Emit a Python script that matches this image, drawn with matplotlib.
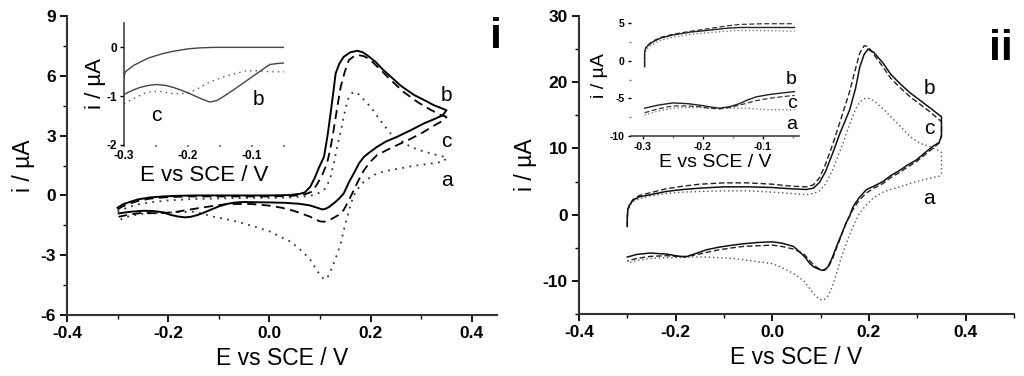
import matplotlib
matplotlib.use("Agg")
import matplotlib.pyplot as plt
from matplotlib.ticker import MultipleLocator, AutoMinorLocator

plt.rcParams["font.family"] = ["Liberation Sans", "DejaVu Sans"]
plt.rcParams["axes.unicode_minus"] = False

# ---------------- panel i (main) ----------------
i_b_up_x = [-0.30, -0.29, -0.275, -0.26, -0.236, -0.21, -0.183, -0.15, -0.10, -0.05, 0.0, 0.04, 0.06, 0.07,
            0.081, 0.09, 0.098, 0.108, 0.115, 0.121, 0.127, 0.131, 0.138, 0.147, 0.16, 0.174, 0.185, 0.193,
            0.21, 0.225, 0.24, 0.26, 0.286, 0.305, 0.325, 0.35]
i_b_up_y = [-0.62, -0.45, -0.32, -0.2, -0.10, -0.05, -0.02, 0.0, 0.0, 0.0, 0.0, 0.02, 0.08, 0.15,
            0.44, 0.9, 1.4, 1.94, 3.0, 4.12, 5.3, 6.12, 6.6, 6.96, 7.18, 7.26, 7.18, 7.04,
            6.7, 6.3, 5.96, 5.5, 5.04, 4.8, 4.53, 4.28]
i_b_dn_x = [0.35, 0.343, 0.325, 0.306, 0.28, 0.253, 0.23, 0.213, 0.2, 0.187, 0.177, 0.167, 0.157, 0.147,
            0.137, 0.127, 0.118, 0.11, 0.104, 0.095, 0.08, 0.06, 0.03, 0.0, -0.03, -0.051, -0.07, -0.084,
            -0.1, -0.117, -0.13, -0.143, -0.155, -0.166, -0.18, -0.196, -0.209, -0.23, -0.249, -0.275, -0.298]
i_b_dn_y = [4.28, 4.03, 3.82, 3.62, 3.28, 2.95, 2.7, 2.44, 2.2, 1.94, 1.6, 1.11, 0.65, 0.1,
            -0.18, -0.4, -0.58, -0.68, -0.7, -0.62, -0.5, -0.42, -0.37, -0.35, -0.34, -0.33, -0.36, -0.43,
            -0.55, -0.73, -0.87, -0.99, -1.07, -1.1, -1.06, -0.97, -0.85, -0.78, -0.77, -0.82, -0.9]

i_c_up_x = [-0.30, -0.29, -0.275, -0.26, -0.236, -0.21, -0.183, -0.15, -0.10, -0.05, 0.0, 0.04, 0.07, 0.085,
            0.094, 0.104, 0.114, 0.121, 0.127, 0.134, 0.141, 0.149, 0.157, 0.167, 0.177, 0.188, 0.2, 0.22,
            0.24, 0.265, 0.292, 0.315, 0.339, 0.35]
i_c_up_y = [-0.7, -0.55, -0.4, -0.28, -0.16, -0.1, -0.07, -0.05, -0.05, -0.05, -0.05, -0.03, 0.05, 0.2,
            0.55, 1.0, 1.61, 2.4, 3.28, 4.4, 5.45, 6.2, 6.79, 6.98, 7.04, 6.98, 6.79, 6.3,
            5.79, 5.2, 4.7, 4.35, 4.03, 3.95]
i_c_dn_x = [0.35, 0.345, 0.325, 0.306, 0.28, 0.253, 0.23, 0.213, 0.2, 0.187, 0.177, 0.167, 0.157, 0.147,
            0.137, 0.127, 0.118, 0.108, 0.1, 0.09, 0.081, 0.065, 0.048, 0.025, 0.002, -0.02, -0.038, -0.06,
            -0.084, -0.11, -0.143, -0.165, -0.183, -0.2, -0.22, -0.249, -0.275, -0.298]
i_c_dn_y = [3.95, 3.78, 3.5, 3.2, 2.85, 2.53, 2.25, 2.03, 1.7, 1.27, 0.8, 0.27, -0.25, -0.73,
            -0.98, -1.12, -1.25, -1.32, -1.3, -1.2, -1.07, -0.92, -0.77, -0.62, -0.52, -0.46, -0.43, -0.43,
            -0.43, -0.52, -0.65, -0.74, -0.82, -0.86, -0.9, -0.87, -0.95, -1.07]

i_a_up_x = [-0.30, -0.28, -0.26, -0.23, -0.2, -0.15, -0.10, -0.05, 0.0, 0.04, 0.07, 0.088, 0.1, 0.108,
            0.115, 0.121, 0.128, 0.134, 0.141, 0.147, 0.152, 0.157, 0.164, 0.170, 0.178, 0.19, 0.2, 0.215,
            0.24, 0.26, 0.279, 0.3, 0.319, 0.335, 0.345, 0.35]
i_a_up_y = [-0.8, -0.6, -0.45, -0.33, -0.25, -0.18, -0.15, -0.13, -0.12, -0.1, -0.05, 0.02, 0.15, 0.27,
            0.55, 0.94, 1.7, 2.44, 3.2, 3.95, 4.5, 4.95, 5.15, 5.2, 5.05, 4.7, 4.45, 3.9,
            3.1, 2.75, 2.44, 2.25, 2.11, 2.0, 1.94, 1.94]
i_a_dn_x = [0.35, 0.345, 0.325, 0.306, 0.28, 0.259, 0.235, 0.213, 0.2, 0.187, 0.177, 0.167, 0.16, 0.154,
            0.147, 0.141, 0.134, 0.127, 0.12, 0.114, 0.108, 0.1, 0.09, 0.081, 0.065, 0.042, 0.02, 0.002,
            -0.025, -0.051, -0.08, -0.11, -0.13, -0.15, -0.18, -0.216, -0.25, -0.275, -0.298]
i_a_dn_y = [1.94, 1.7, 1.62, 1.56, 1.46, 1.36, 1.25, 1.11, 0.92, 0.69, 0.4, 0.02, -0.5, -1.07,
            -1.75, -2.41, -2.95, -3.41, -3.85, -4.17, -4.2, -4.0, -3.6, -3.24, -2.8, -2.32, -2.05, -1.82,
            -1.6, -1.4, -1.22, -1.07, -0.93, -0.82, -0.84, -0.87, -0.92, -1.02, -1.24]

# ---------------- panel i (inset) ----------------
ins_i_top_x = [-0.3, -0.298, -0.285, -0.27, -0.26, -0.24, -0.223, -0.2, -0.181, -0.16, -0.12, -0.08, -0.05]
ins_i_top_y = [-0.6, -0.5, -0.37, -0.27, -0.21, -0.13, -0.08, -0.03, -0.01, 0.0, 0.0, 0.0, 0.0]
ins_i_dip_x = [-0.3, -0.298, -0.285, -0.275, -0.262, -0.249, -0.235, -0.223, -0.21, -0.197, -0.18,
               -0.166, -0.155, -0.145, -0.13, -0.119, -0.105, -0.093, -0.08, -0.072, -0.06, -0.05]
ins_i_dip_y = [-0.97, -0.95, -0.87, -0.82, -0.78, -0.76, -0.78, -0.82, -0.88, -0.95, -1.05,
               -1.12, -1.09, -1.01, -0.88, -0.78, -0.65, -0.54, -0.42, -0.35, -0.33, -0.32]
ins_i_dot_x = [-0.3, -0.285, -0.265, -0.245, -0.223, -0.21, -0.197, -0.185, -0.171, -0.158, -0.145,
               -0.13, -0.109, -0.09, -0.07, -0.05]
ins_i_dot_y = [-1.15, -1.05, -0.92, -0.9, -0.95, -0.95, -0.92, -0.85, -0.74, -0.67, -0.61,
               -0.55, -0.48, -0.48, -0.5, -0.5]

# ---------------- panel ii (main) ----------------
ii_up_x = [-0.3, -0.3, -0.299, -0.295, -0.288, -0.275, -0.253, -0.22, -0.185, -0.15, -0.1, -0.05, 0.0,
           0.04, 0.07, 0.085, 0.098, 0.11, 0.125, 0.14, 0.16, 0.172, 0.181, 0.19, 0.198, 0.21, 0.229,
           0.245, 0.264, 0.285, 0.305, 0.325, 0.346, 0.35, 0.35]
ii_b_up_y = [-1.8, -0.5, 0.7, 1.5, 2.2, 2.7, 3.0, 3.5, 3.8, 4.0, 4.2, 4.2, 4.1,
             3.9, 3.8, 4.0, 4.9, 6.5, 9.3, 12.3, 15.8, 19.0, 22.3, 24.2, 25.0, 24.5, 22.9,
             21.2, 19.8, 18.4, 17.3, 16.2, 15.0, 14.8, 11.8]
ii_c_up_y = [-1.8, -0.5, 0.8, 1.6, 2.3, 2.9, 3.3, 3.9, 4.3, 4.6, 4.8, 4.8, 4.6,
             4.3, 4.2, 4.5, 5.6, 7.6, 10.6, 14.0, 18.6, 22.0, 24.4, 25.5, 25.4, 24.2, 22.3,
             20.6, 19.2, 17.8, 16.7, 15.6, 14.3, 14.0, 12.0]
ii_a_up_y = [-1.5, -0.5, 0.6, 1.4, 2.0, 2.4, 2.8, 3.2, 3.4, 3.5, 3.6, 3.6, 3.4,
             3.2, 3.0, 3.2, 3.6, 4.6, 6.8, 9.6, 13.6, 15.9, 17.0, 17.5, 17.6, 17.2, 16.0,
             14.8, 13.4, 11.8, 10.8, 10.3, 9.6, 9.4, 6.3]

ii_dn_x = [0.35, 0.345, 0.332, 0.315, 0.298, 0.28, 0.264, 0.245, 0.229, 0.21, 0.195, 0.18, 0.167,
           0.16, 0.153, 0.143, 0.133, 0.124, 0.115, 0.108, 0.102, 0.095, 0.086, 0.078, 0.065, 0.044,
           0.02, 0.0, -0.03, -0.06, -0.082, -0.11, -0.136, -0.16, -0.18, -0.2, -0.219, -0.253, -0.28, -0.3]
ii_b_dn_y = [11.8, 10.9, 10.3, 9.3, 8.25, 7.5, 6.7, 5.9, 5.0, 4.3, 3.8, 2.6, 1.2,
             -0.2, -1.2, -3.0, -4.8, -6.5, -7.9, -8.3, -8.4, -8.2, -7.9, -7.4, -6.2, -4.8,
             -4.3, -4.1, -4.2, -4.4, -4.6, -4.9, -5.3, -5.9, -6.4, -6.2, -5.95, -5.8, -6.0, -6.4]
ii_c_dn_y = [12.0, 10.8, 10.0, 9.0, 8.0, 7.2, 6.4, 5.6, 4.7, 4.0, 3.3, 2.2, 0.8,
             -0.2, -1.2, -3.1, -5.0, -6.8, -8.0, -8.4, -8.4, -8.1, -7.6, -7.0, -5.9, -5.2,
             -4.8, -4.6, -4.7, -4.8, -5.0, -5.3, -5.7, -6.1, -6.3, -6.3, -6.2, -6.3, -6.6, -7.0]
ii_a_dn_y = [6.3, 5.8, 5.6, 5.3, 5.0, 4.6, 4.2, 3.8, 3.4, 2.6, 1.5, 0.2, -1.8,
             -3.0, -4.4, -6.4, -8.8, -10.9, -12.3, -12.8, -12.9, -12.6, -12.0, -11.2, -10.0, -8.9,
             -8.0, -7.4, -7.1, -6.8, -6.6, -6.5, -6.4, -6.4, -6.4, -6.5, -6.5, -6.6, -6.9, -7.3]

# ---------------- panel ii (inset) ----------------
ins_ii_up_x = [-0.297, -0.297, -0.295, -0.29, -0.283, -0.27, -0.25, -0.22, -0.194, -0.16, -0.139, -0.1, -0.047]
ins_ii_b_up_y = [-0.8, 1.0, 1.7, 2.1, 2.5, 3.0, 3.4, 3.8, 4.0, 4.3, 4.4, 4.4, 4.4]
ins_ii_c_up_y = [-0.8, 1.0, 1.8, 2.2, 2.6, 3.1, 3.5, 3.9, 4.2, 4.6, 4.8, 4.9, 4.9]
ins_ii_a_up_y = [-0.8, 0.8, 1.4, 1.8, 2.2, 2.7, 3.1, 3.5, 3.7, 3.9, 4.0, 4.0, 3.9]
ins_ii_dn_x = [-0.297, -0.275, -0.25, -0.225, -0.205, -0.19, -0.172, -0.155, -0.139, -0.125, -0.111,
               -0.09, -0.07, -0.047]
ins_ii_b_dn_y = [-6.3, -5.9, -5.6, -5.7, -5.9, -6.1, -6.3, -6.1, -5.7, -5.2, -4.8, -4.5, -4.3, -4.1]
ins_ii_c_dn_y = [-6.9, -6.4, -6.0, -6.0, -6.1, -6.3, -6.4, -6.2, -5.9, -5.6, -5.3, -5.0, -4.8, -4.6]
ins_ii_a_dn_y = [-7.2, -6.7, -6.3, -6.2, -6.2, -6.3, -6.3, -6.3, -6.3, -6.3, -6.4, -6.5, -6.5, -6.5]

XLABEL = "E vs SCE / V"
YLABEL = "i / \u00b5A"

SOLID = dict(color="black", lw=1.4, ls="-")
DASHED = dict(color="black", lw=1.3, ls=(0, (5, 3)))
DOTTED = dict(color="#333333", lw=1.3, ls=(0, (1, 3)))


def fmt_x(v, pos):
    return "%.1f" % v


def bold_ticks(ax):
    for lab in ax.get_xticklabels() + ax.get_yticklabels():
        lab.set_fontweight("bold")


def style_main(ax, xlim, ylim, xstep, ystep):
    ax.set_xlim(*xlim)
    ax.set_ylim(*ylim)
    ax.xaxis.set_major_locator(MultipleLocator(xstep))
    ax.yaxis.set_major_locator(MultipleLocator(ystep))
    ax.xaxis.set_minor_locator(AutoMinorLocator(2))
    ax.yaxis.set_minor_locator(AutoMinorLocator(2))
    ax.xaxis.set_major_formatter(fmt_x)
    for side in ("top", "right"):
        ax.spines[side].set_visible(False)
    for side in ("left", "bottom"):
        ax.spines[side].set_linewidth(1.5)
        ax.spines[side].set_color("#333333")
    ax.tick_params(which="major", direction="out", length=5, width=1.3, labelsize=12.5, pad=3)
    ax.tick_params(which="minor", direction="out", length=3, width=1.0)
    ax.set_xlabel(XLABEL, fontsize=16.5, labelpad=4)
    ax.set_ylabel(YLABEL, fontsize=16.5, labelpad=4)


fig = plt.figure(figsize=(10.24, 3.76), dpi=100)

# ---- panel i ----
ax1 = fig.add_axes([0.0654, 0.1622, 0.42, 0.795])
ax1.plot(i_a_up_x + i_a_dn_x, i_a_up_y + i_a_dn_y, **DOTTED)
ax1.plot(i_c_up_x + i_c_dn_x, i_c_up_y + i_c_dn_y, **DASHED)
ax1.plot(i_b_up_x + i_b_dn_x, i_b_up_y + i_b_dn_y, **SOLID)
style_main(ax1, (-0.4, 0.45), (-6, 9), 0.2, 3)
for txt, y in (("b", 5.0), ("c", 2.7), ("a", 0.75)):
    ax1.text(0.35, y, txt, fontsize=15, ha="center", va="center")

ins1 = fig.add_axes([0.1211, 0.6144, 0.1563, 0.3245])
ins1.plot(ins_i_dot_x, ins_i_dot_y, color="#555555", lw=1.0, ls=(0, (1, 3)))
ins1.plot(ins_i_dip_x, ins_i_dip_y, color="#444444", lw=1.0)
ins1.plot(ins_i_top_x, ins_i_top_y, color="#444444", lw=1.0)
ins1.set_xlim(-0.3, -0.05)
ins1.set_ylim(-2, 0.5)
ins1.patch.set_alpha(0)
for side in ("top", "right", "bottom"):
    ins1.spines[side].set_visible(False)
ins1.spines["left"].set_linewidth(1.1)
ins1.spines["left"].set_color("#333333")
ins1.xaxis.set_major_locator(MultipleLocator(0.1))
ins1.xaxis.set_minor_locator(MultipleLocator(0.05))
ins1.yaxis.set_major_locator(MultipleLocator(1))
ins1.xaxis.set_major_formatter(fmt_x)
ins1.tick_params(axis="x", which="both", length=1.5, width=1.2, color="#666666", labelsize=8.5, pad=2)
ins1.tick_params(axis="y", which="major", length=3, width=1.0, labelsize=8.5, pad=2)
ins1.set_xlabel(XLABEL, fontsize=16, labelpad=2)
ins1.set_ylabel(YLABEL, fontsize=16, labelpad=0)
ins1.text(-0.249, -1.39, "c", fontsize=15, ha="center", va="center")
ins1.text(-0.09, -1.07, "b", fontsize=15, ha="center", va="center")

fig.text(0.484, 0.872, "i", fontsize=31, fontweight="bold", ha="center", va="baseline")

# ---- panel ii ----
ax2 = fig.add_axes([0.5654, 0.1649, 0.4248, 0.7926])
ax2.plot(ii_up_x + ii_dn_x, ii_a_up_y + ii_a_dn_y, color="#555555", lw=1.0, ls=(0, (1, 2)))
ax2.plot(ii_up_x + ii_dn_x, ii_c_up_y + ii_c_dn_y, color="#222222", lw=1.0, ls=(0, (4, 2)))
ax2.plot(ii_up_x + ii_dn_x, ii_b_up_y + ii_b_dn_y, color="#111111", lw=1.1)
style_main(ax2, (-0.4, 0.5), (-15, 30), 0.2, 10)
for txt, y in (("b", 19.1), ("c", 13.0), ("a", 2.5)):
    ax2.text(0.325, y, txt, fontsize=15, ha="center", va="center")

ins2 = fig.add_axes([0.616, 0.638, 0.164, 0.321])
ins2.plot(ins_ii_up_x, ins_ii_a_up_y, color="#666666", lw=0.9, ls=(0, (1, 2)))
ins2.plot(ins_ii_dn_x, ins_ii_a_dn_y, color="#666666", lw=0.9, ls=(0, (1, 2)))
ins2.plot(ins_ii_up_x, ins_ii_c_up_y, color="#333333", lw=0.9, ls=(0, (4, 2)))
ins2.plot(ins_ii_dn_x, ins_ii_c_dn_y, color="#333333", lw=0.9, ls=(0, (4, 2)))
ins2.plot(ins_ii_up_x, ins_ii_b_up_y, color="#222222", lw=1.0)
ins2.plot(ins_ii_dn_x, ins_ii_b_dn_y, color="#222222", lw=1.0)
ins2.set_xlim(-0.32, -0.04)
ins2.set_ylim(-10, 6)
ins2.patch.set_alpha(0)
for side in ("top", "right", "left"):
    ins2.spines[side].set_visible(False)
ins2.spines["bottom"].set_linewidth(1.1)
ins2.spines["bottom"].set_color("#333333")
ins2.xaxis.set_major_locator(MultipleLocator(0.1))
ins2.xaxis.set_minor_locator(MultipleLocator(0.05))
ins2.yaxis.set_major_locator(MultipleLocator(5))
ins2.yaxis.set_minor_locator(MultipleLocator(2.5))
ins2.xaxis.set_major_formatter(fmt_x)
ins2.tick_params(which="major", length=2.5, width=1.0, labelsize=7.5, pad=2)
ins2.tick_params(which="minor", length=1.5, width=1.0, color="#777777")
ins2.set_xlabel(XLABEL, fontsize=14, labelpad=1)
ins2.set_ylabel(YLABEL, fontsize=14, labelpad=1)
for txt, y in (("b", -2.5), ("c", -5.7), ("a", -8.5)):
    ins2.text(-0.052, y, txt, fontsize=14, ha="center", va="center")

fig.text(0.977, 0.84, "ii", fontsize=31, fontweight="bold", ha="center", va="baseline")

# tick label objects exist only after a first draw; make them bold then save
fig.canvas.draw()
for ax in (ax1, ins1, ax2, ins2):
    bold_ticks(ax)

fig.savefig("out.png", dpi=100)
